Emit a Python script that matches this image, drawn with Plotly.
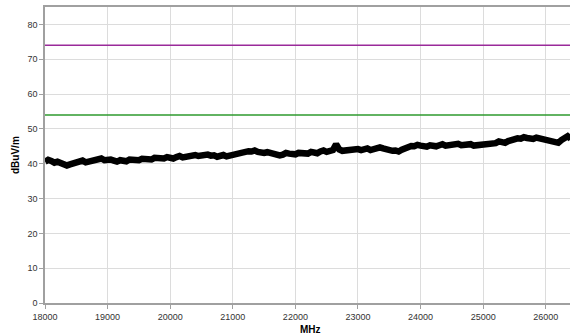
import numpy as np
import plotly.graph_objects as go

# Measured level (dBuV/m) every 50 MHz starting at 18000 MHz
x_start = 18000
x_step = 50
level = [
    40.6, 41.1, 40.8, 40.3, 40.6, 40.1, 40.0, 39.5, 39.8, 40.2,
    40.3, 40.9, 40.9, 40.4, 40.6, 41.0, 41.2, 41.6, 41.5, 41.0,
    41.3, 41.2, 40.9, 40.6, 41.0, 40.8, 40.7, 41.2, 41.1, 40.8,
    41.0, 41.4, 41.3, 41.0, 41.2, 41.7, 41.6, 41.3, 41.5, 41.9,
    41.7, 41.5, 41.9, 42.2, 41.8, 42.0, 42.3, 42.7, 42.5, 42.2,
    42.3, 42.8, 42.6, 42.3, 42.4, 42.0, 42.2, 42.5, 42.1, 42.3,
    42.5, 42.7, 42.9, 43.4, 43.2, 43.6, 43.5, 43.8, 43.4, 43.2,
    43.1, 43.3, 43.0, 42.7, 42.8, 42.4, 42.6, 43.1, 42.9, 42.6,
    42.7, 43.1, 43.0, 42.7, 42.9, 43.4, 43.3, 43.0, 43.5, 43.8,
    43.4, 43.7, 43.9, 45.6, 44.1, 43.7, 43.8, 44.3, 44.2, 44.5,
    44.2, 43.9, 44.0, 44.4, 43.9, 44.1, 44.3, 44.7, 44.4, 44.0,
    44.1, 43.7, 43.8, 43.5, 44.0, 44.4, 44.6, 45.1, 45.0, 45.4,
    45.2, 44.8, 44.9, 45.3, 45.1, 45.0, 45.3, 45.6, 45.2, 45.4,
    45.5, 45.9, 45.7, 45.3, 45.4, 45.8, 45.6, 45.2, 45.3, 45.0,
    45.2, 45.6, 45.5, 45.8, 45.9, 46.4, 46.2, 46.0, 46.5, 46.9,
    46.8, 47.3, 47.2, 47.6, 47.4, 47.0, 47.1, 47.5, 47.3, 46.8,
    46.9, 46.6, 46.4, 46.1, 46.0, 46.8, 47.6, 47.9, 47.2,
]
freq = [x_start + x_step * i for i in range(len(level))]

limit_peak = 74
limit_avg = 54
x_range = [18000, 26387]
y_range = [0, 85]
x_ticks = [18000, 19000, 20000, 21000, 22000, 23000, 24000, 25000, 26000]
y_ticks = [0, 10, 20, 30, 40, 50, 60, 70, 80]

fig = go.Figure()
fig.add_trace(go.Scatter(x=x_range, y=[limit_peak, limit_peak], mode="lines",
                         line=dict(color="#9a2a9a", width=1.6), hoverinfo="skip"))
fig.add_trace(go.Scatter(x=x_range, y=[limit_avg, limit_avg], mode="lines",
                         line=dict(color="#2e9a2e", width=1.6), hoverinfo="skip"))
fig.add_trace(go.Scatter(x=freq, y=level, mode="lines",
                         line=dict(color="black", width=6.5)))

axis_common = dict(showgrid=True, gridcolor="#dcdcdc", gridwidth=1,
                   showline=True, linecolor="#a0a0a0", linewidth=1.5, mirror=True,
                   ticks="outside", ticklen=4, tickcolor="#a0a0a0",
                   tickfont=dict(family="Liberation Sans, Arial", size=9, color="#333"),
                   zeroline=False, automargin=False)

title_font = dict(family="Liberation Sans, Arial", size=10, color="black")

fig.update_layout(
    width=570, height=336,
    margin=dict(l=45, r=0, t=7, b=33),
    paper_bgcolor="white", plot_bgcolor="white",
    showlegend=False,
    xaxis=dict(range=x_range, tickvals=x_ticks, ticktext=[str(t) for t in x_ticks],
               **axis_common),
    yaxis=dict(range=y_range, tickvals=y_ticks, ticktext=[str(t) for t in y_ticks],
               **axis_common),
    annotations=[
        dict(text="<b>MHz</b>", xref="paper", yref="paper", x=0.506, y=0,
             yshift=-26, xanchor="center", yanchor="middle", showarrow=False,
             font=title_font),
        dict(text="<b>dBuV/m</b>", xref="paper", yref="paper", x=0, y=0.5,
             xshift=-30, xanchor="center", yanchor="middle", textangle=-90,
             showarrow=False, font=title_font),
    ],
)

fig.write_html("out.html", config={"displayModeBar": False},
               post_script="document.body.style.margin='0';document.body.style.overflow='hidden';")
